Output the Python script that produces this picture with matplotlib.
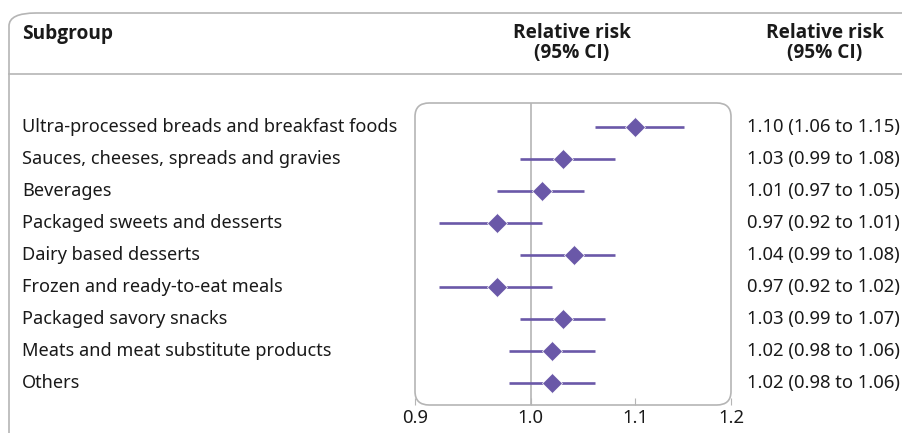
import matplotlib
matplotlib.use("Agg")
import matplotlib.pyplot as plt
from matplotlib.patches import FancyBboxPatch
from matplotlib.transforms import blended_transform_factory

subgroups = [
    "Ultra-processed breads and breakfast foods",
    "Sauces, cheeses, spreads and gravies",
    "Beverages",
    "Packaged sweets and desserts",
    "Dairy based desserts",
    "Frozen and ready-to-eat meals",
    "Packaged savory snacks",
    "Meats and meat substitute products",
    "Others",
]
rr = [1.10, 1.03, 1.01, 0.97, 1.04, 0.97, 1.03, 1.02, 1.02]
lower = [1.06, 0.99, 0.97, 0.92, 0.99, 0.92, 0.99, 0.98, 0.98]
upper = [1.15, 1.08, 1.05, 1.01, 1.08, 1.02, 1.07, 1.06, 1.06]
ticks = [0.9, 1.0, 1.1, 1.2]

purple = "#6a58a8"
grey = "#b5b5b5"
ink = "#1a1a1a"
plt.rcParams["font.family"] = ["Noto Sans", "DejaVu Sans"]
bold_font = ["Open Sans", "DejaVu Sans"]

W, H = 903, 433
fig = plt.figure(figsize=(W / 100, H / 100), dpi=100)

# outer table frame and header rule
frame = FancyBboxPatch((9 / W, -0.2), 1.2, (H - 13) / H + 0.2, boxstyle="round,pad=0,rounding_size=0.03",
                       transform=fig.transFigure, fill=False, edgecolor=grey, lw=1.2)
fig.patches.append(frame)
fig.add_artist(plt.Line2D([9 / W, 1], [1 - 74 / H] * 2, color=grey, lw=1.2, transform=fig.transFigure))

# headers
fig.text(22 / W, 1 - 34 / H, "Subgroup", ha="left", va="center", fontsize=13.8, fontweight="bold",
         family=bold_font, color=ink)
for cx in [572, 825]:
    fig.text(cx / W, 1 - 43 / H, "Relative risk\n(95% CI)", ha="center", va="center", fontsize=13.7,
             fontweight="bold", family=bold_font, color=ink, linespacing=0.98)

ax = fig.add_axes([415 / W, 1 - 405 / H, (731 - 415) / W, (405 - 103) / H])
ax.set_xscale("log")
ax.set_xlim(0.9, 1.2)
ax.set_ylim(8.69, -0.75)
for s in ax.spines.values():
    s.set_visible(False)
box = FancyBboxPatch((0, 0), 1, 1, boxstyle="round,pad=0,rounding_size=0.045", transform=ax.transAxes,
                     fill=False, edgecolor=grey, lw=1.2, clip_on=False, mutation_aspect=1)
ax.add_patch(box)
ax.axvline(1.0, color=grey, lw=1.2, zorder=1)

ys = list(range(len(subgroups)))
ax.hlines(ys, lower, upper, color=purple, lw=1.9, zorder=2)
ax.plot(rr, ys, "D", color=purple, markersize=10, markeredgecolor="white", markeredgewidth=0.5, zorder=3)

ax.set_xticks(ticks)
ax.set_xticklabels([f"{t:.1f}" for t in ticks])
ax.xaxis.set_minor_locator(matplotlib.ticker.NullLocator())
ax.tick_params(axis="x", direction="in", length=5, color=grey, labelsize=13.3, labelcolor=ink, pad=3)
ax.set_yticks([])

tr_left = blended_transform_factory(fig.transFigure, ax.transData)
for i, (name, r, lo, hi) in enumerate(zip(subgroups, rr, lower, upper)):
    fig.text(22 / W, i, name, transform=tr_left, ha="left", va="center", fontsize=13.1, color=ink)
    fig.text(747 / W, i, f"{r:.2f} ({lo:.2f} to {hi:.2f})", transform=tr_left, ha="left", va="center",
             fontsize=13.3, color=ink)

fig.savefig("out.png", dpi=100)
